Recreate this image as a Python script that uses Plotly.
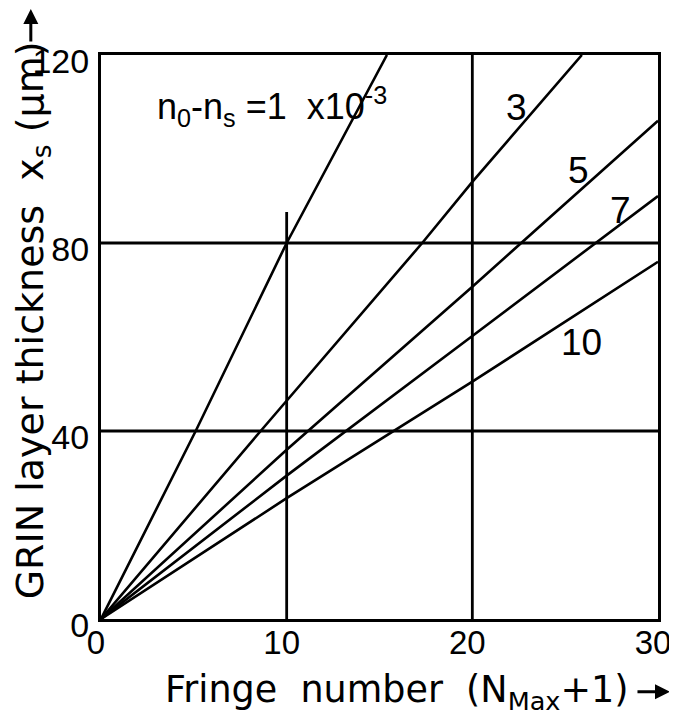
import plotly.graph_objects as go

# ---- data ----
series_names = ["1e-3", "3", "5", "7", "10"]
x_1 = [0, 5.1, 10, 15.4]
y_1 = [0, 40, 80, 120]
x_3 = [0, 8.6, 17.3, 20, 25.9]
y_3 = [0, 40, 80, 93, 120]
x_5 = [0, 10, 20, 30]
y_5 = [0, 36, 70.7, 106]
x_7 = [0, 10, 20, 30]
y_7 = [0, 30.5, 60.2, 90]
x_10 = [0, 10, 20, 30]
y_10 = [0, 25.7, 50.5, 76]

x_ticks = [0, 10, 20, 30]
y_ticks = [0, 40, 80, 120]
grid_x = [10, 20]
grid_x_top = [86.6, 120]
grid_y = [40, 80]

TICK_FONT = "Liberation Sans, Arial, sans-serif"
TITLE_FONT = "DejaVu Sans, sans-serif"

fig = go.Figure()
for xs, ys in [(x_1, y_1), (x_3, y_3), (x_5, y_5), (x_7, y_7), (x_10, y_10)]:
    fig.add_trace(go.Scatter(x=xs, y=ys, mode="lines",
                             line=dict(color="black", width=2.6),
                             showlegend=False, hoverinfo="skip"))

shapes = []
for gx, top in zip(grid_x, grid_x_top):
    shapes.append(dict(type="line", xref="x", yref="y", x0=gx, x1=gx, y0=0, y1=top,
                       line=dict(color="black", width=2.8), layer="below"))
for gy in grid_y:
    shapes.append(dict(type="line", xref="x", yref="y", x0=0, x1=30, y0=gy, y1=gy,
                       line=dict(color="black", width=2.8), layer="below"))

annotations = [
    dict(x=2.9, y=109, xref="x", yref="y", xanchor="left", yanchor="middle",
         text="n<sub>0</sub>-n<sub>s</sub> =1  x10<sup>-3</sup>", showarrow=False,
         font=dict(family=TICK_FONT, size=36, color="black")),
    dict(x=22.4, y=108.8, xref="x", yref="y", text="3", showarrow=False,
         font=dict(family=TICK_FONT, size=37, color="black")),
    dict(x=25.7, y=95.4, xref="x", yref="y", text="5", showarrow=False,
         font=dict(family=TICK_FONT, size=37, color="black")),
    dict(x=27.97, y=86.9, xref="x", yref="y", text="7", showarrow=False,
         font=dict(family=TICK_FONT, size=37, color="black")),
    dict(x=25.9, y=58.9, xref="x", yref="y", text="10", showarrow=False,
         font=dict(family=TICK_FONT, size=37, color="black")),
    # y-axis title
    dict(x=-0.1234, y=0.53, xref="paper", yref="paper", textangle=-90,
         text="GRIN layer thickness  x<sub>s</sub> (μm)", showarrow=False,
         xanchor="center", yanchor="middle",
         font=dict(family=TITLE_FONT, size=38, color="black")),
    dict(x=-0.126, y=1.0886, xref="paper", yref="paper", text="", showarrow=True,
         ax=0, ay=38, arrowhead=2, arrowsize=1, arrowwidth=3, arrowcolor="black"),
    # x-axis title
    dict(x=0.531, y=-0.1288, xref="paper", yref="paper",
         text="Fringe  number  (N<sub>Max</sub>+1)", showarrow=False,
         xanchor="center", yanchor="middle",
         font=dict(family=TITLE_FONT, size=36.5, color="black")),
    dict(x=1.0215, y=-0.1288, xref="paper", yref="paper", text="", showarrow=True,
         ax=-34, ay=0, arrowhead=2, arrowsize=1, arrowwidth=3, arrowcolor="black"),
]

fig.update_layout(
    width=677, height=725,
    margin=dict(l=93, r=27, t=47, b=114),
    paper_bgcolor="white", plot_bgcolor="white",
    shapes=shapes, annotations=annotations,
    showlegend=False,
)
fig.update_xaxes(range=[0, 30], tickvals=x_ticks, ticktext=[str(v) for v in x_ticks],
                 showgrid=False, zeroline=False, showline=True, mirror=True,
                 linecolor="black", linewidth=3, ticks="",
                 ticklabelstandoff=-8, ticklabelshift=-5, ticklabeloverflow="allow",
                 tickfont=dict(family=TICK_FONT, size=33, color="black"))
fig.update_yaxes(range=[0, 120], tickvals=y_ticks, ticktext=[str(v) for v in y_ticks],
                 showgrid=False, zeroline=False, showline=True, mirror=True,
                 linecolor="black", linewidth=3, ticks="",
                 ticklabelstandoff=2, ticklabelshift=6, ticklabeloverflow="allow",
                 tickfont=dict(family=TICK_FONT, size=34, color="black"))

fig.write_html("out.html")
